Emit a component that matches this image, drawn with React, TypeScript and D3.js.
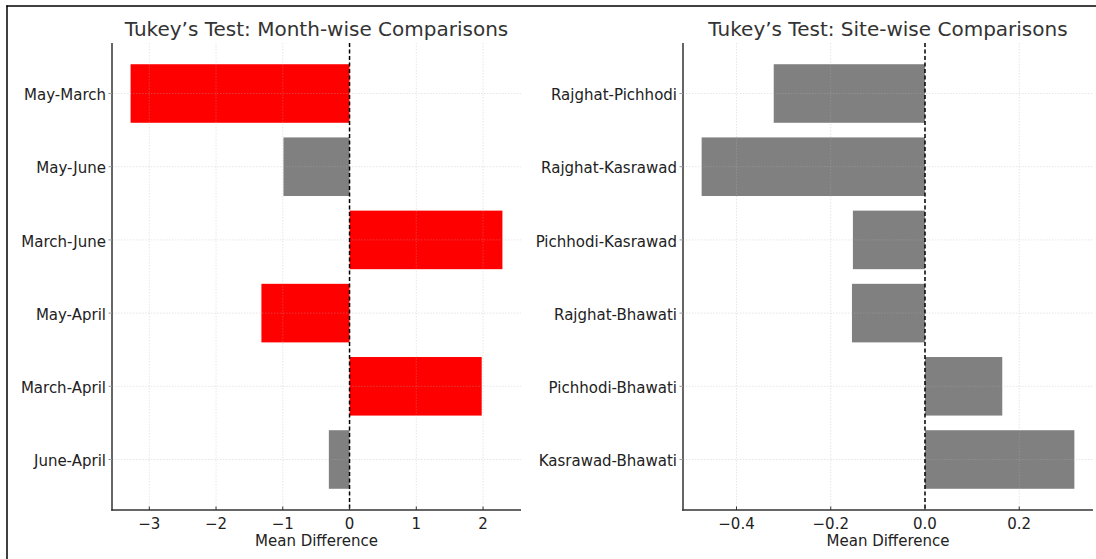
import React from "react";
import * as d3 from "d3";

const monthPairs = ["May-March", "May-June", "March-June", "May-April", "March-April", "June-April"];
const monthDiffs = [-3.28, -0.99, 2.29, -1.32, 1.98, -0.31];
const monthSignificant = [true, false, true, true, true, false];
const monthTicks = [-3, -2, -1, 0, 1, 2];

const sitePairs = ["Rajghat-Pichhodi", "Rajghat-Kasrawad", "Pichhodi-Kasrawad", "Rajghat-Bhawati", "Pichhodi-Bhawati", "Kasrawad-Bhawati"];
const siteDiffs = [-0.321, -0.474, -0.153, -0.155, 0.164, 0.317];
const siteSignificant = [false, false, false, false, false, false];
const siteTicks = [-0.4, -0.2, 0.0, 0.2];

const FONT = "'DejaVu Sans', sans-serif";

type PanelProps = {
  title: string;
  cats: string[];
  vals: number[];
  sig: boolean[];
  ticks: number[];
  fmt: (v: number) => string;
  x0: number;
  x1: number;
};

function Panel({ title, cats, vals, sig, ticks, fmt, x0, x1 }: PanelProps) {
  const top = 43;
  const bottom = 510;
  const n = cats.length;
  const lo = Math.min(0, d3.min(vals)!);
  const hi = Math.max(0, d3.max(vals)!);
  const m = (hi - lo) * 0.05;
  const x = d3.scaleLinear().domain([lo - m, hi + m]).range([x0, x1]);
  const yLo = -0.4, yHi = n - 1 + 0.4;
  const ym = (yHi - yLo) * 0.05;
  const y = d3.scaleLinear().domain([yLo - ym, yHi + ym]).range([bottom, top]);
  const barH = Math.abs(y(0.4) - y(-0.4));
  const pos = (i: number) => n - 1 - i;
  return (
    <g>
      <text x={(x0 + x1) / 2} y={36} textAnchor="middle" fontFamily={FONT} fontSize={20} fill="#333">
        {title}
      </text>
      {cats.map((c, i) => {
        const v = vals[i];
        return (
          <rect
            key={c}
            x={Math.min(x(0), x(v))}
            y={y(pos(i)) - barH / 2}
            width={Math.abs(x(v) - x(0))}
            height={barH}
            fill={sig[i] ? "#ff0000" : "#808080"}
          />
        );
      })}
      {ticks.map((t) => (
        <line key={"gx" + t} x1={x(t)} x2={x(t)} y1={top} y2={bottom} stroke="#b0b0b0" strokeOpacity={0.4} strokeWidth={0.8} strokeDasharray="1.5,1.5" />
      ))}
      {cats.map((c, i) => (
        <line key={"gy" + c} x1={x0} x2={x1} y1={y(pos(i))} y2={y(pos(i))} stroke="#b0b0b0" strokeOpacity={0.4} strokeWidth={0.8} strokeDasharray="1.5,1.5" />
      ))}
      <line x1={x(0)} x2={x(0)} y1={top} y2={bottom} stroke="#000" strokeWidth={1.5} strokeDasharray="4,2.5" />
      <line x1={x0} x2={x0} y1={top} y2={bottom + 0.75} stroke="#333" strokeWidth={1.5} />
      <line x1={x0 - 0.75} x2={x1} y1={bottom} y2={bottom} stroke="#333" strokeWidth={1.5} />
      {ticks.map((t) => (
        <g key={"tx" + t}>
          <line x1={x(t)} x2={x(t)} y1={bottom} y2={bottom - 3.5} stroke="#333" strokeWidth={1} />
          <text x={x(t)} y={529} textAnchor="middle" fontFamily={FONT} fontSize={15} fill="#222">
            {fmt(t)}
          </text>
        </g>
      ))}
      {cats.map((c, i) => (
        <g key={"ty" + c}>
          <line x1={x0} x2={x0 - 3.5} y1={y(pos(i))} y2={y(pos(i))} stroke="#999" strokeWidth={1} />
          <text x={x0 - 6} y={y(pos(i))} dy="0.45em" textAnchor="end" fontFamily={FONT} fontSize={15} fill="#222">
            {c}
          </text>
        </g>
      ))}
      <text x={(x0 + x1) / 2} y={546} textAnchor="middle" fontFamily={FONT} fontSize={15} fill="#222">
        Mean Difference
      </text>
    </g>
  );
}

export default function App() {
  const fmtInt = d3.format("d");
  const fmt1 = d3.format(".1f");
  return (
    <svg width={1096} height={559} style={{ position: "absolute", left: 0, top: 0, background: "#fff" }}>
      <rect x={0} y={0} width={1096} height={559} fill="#fff" />
      <line x1={7} x2={7} y1={5.5} y2={559} stroke="#000" strokeWidth={1.5} />
      <line x1={6.25} x2={1096} y1={6} y2={6} stroke="#000" strokeWidth={1.5} />
      <Panel title="Tukey’s Test: Month-wise Comparisons" cats={monthPairs} vals={monthDiffs} sig={monthSignificant} ticks={monthTicks} fmt={fmtInt} x0={112} x1={521} />
      <Panel title="Tukey’s Test: Site-wise Comparisons" cats={sitePairs} vals={siteDiffs} sig={siteSignificant} ticks={siteTicks} fmt={fmt1} x0={683} x1={1093} />
    </svg>
  );
}
